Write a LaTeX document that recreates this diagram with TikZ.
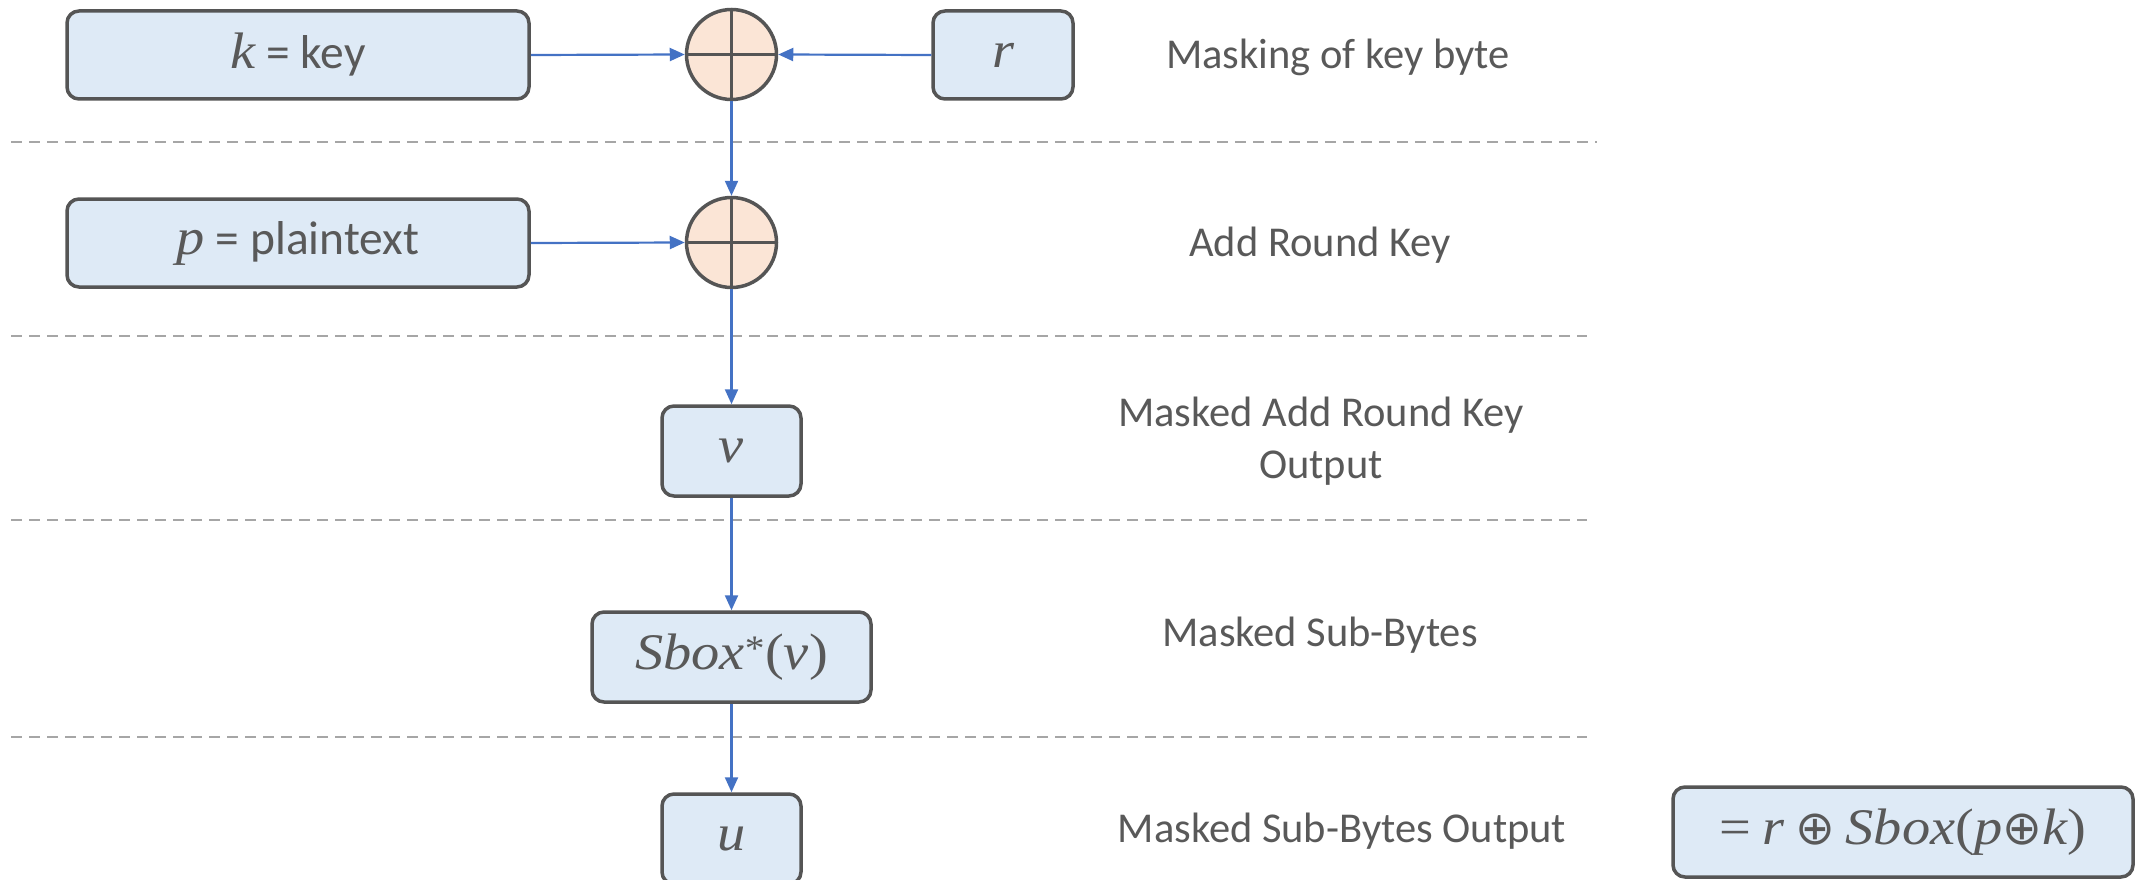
\documentclass[tikz,border=0pt]{standalone}
\usepackage{fontspec}
\setmainfont{Carlito}
\newfontfamily\mfont[Scale=1.08, FakeStretch=1.1]{Liberation Serif}
\newfontfamily\symfont{DejaVu Sans}
\newcommand{\mv}[1]{{\mfont\itshape #1}}
\newcommand{\mup}[1]{{\mfont #1}}
\newcommand{\xo}{{\symfont ⊕}}
\usetikzlibrary{arrows.meta}
\definecolor{txt}{HTML}{595959}
\definecolor{boxfill}{HTML}{DEEAF6}
\definecolor{boxline}{HTML}{555555}
\definecolor{xorfill}{HTML}{FBE5D6}
\definecolor{arrowblue}{HTML}{4472C4}
\definecolor{dashgray}{HTML}{A6A6A6}
\tikzset{
  bx/.style={draw=boxline, line width=3.5pt, fill=boxfill, rounded corners=12pt,
    inner sep=0pt, text=txt, font=\fontsize{47.5}{55}\selectfont},
  xorc/.style={circle, draw=boxline, line width=3.5pt, fill=xorfill,
    minimum size=90pt, inner sep=0pt},
  lbl/.style={text=txt, font=\fontsize{42.5}{52}\selectfont, align=center},
  flow/.style={draw=arrowblue, line width=2.2pt, -{Triangle[length=15pt,width=13pt]}},
  sep/.style={draw=dashgray, line width=2.5pt, dash pattern=on 11pt off 7pt}
}
\begin{document}
\begin{tikzpicture}[x=1pt,y=-1pt]
\useasboundingbox (0,0) rectangle (2136,880);
% separators
\draw[sep] (11,142) -- (1597,142);
\draw[sep] (11,336) -- (1587,336);
\draw[sep] (11,520) -- (1587,520);
\draw[sep] (11,737) -- (1587,737);
% boxes
\node[bx, minimum width=462pt, minimum height=88pt] (k) at (298,55) {\mv{k} = key};
\node[bx, minimum width=140pt, minimum height=88pt] (r) at (1003,55) {\mv{r}};
\node[bx, minimum width=462pt, minimum height=88pt] (p) at (298,243) {\mv{p} = plaintext};
\node[bx, minimum width=139pt, minimum height=90pt] (v) at (731.5,451) {\mv{v}};
\node[bx, minimum width=279pt, minimum height=90pt] (s) at (731.5,657) {\mv{Sbox}\textsuperscript{\mup{*}}\mup{(}\mv{v}\mup{)}};
\node[bx, minimum width=139pt, minimum height=90pt] (u) at (731.5,839) {\mv{u}};
\node[bx, minimum width=460pt, minimum height=90pt] (f) at (1903,832) {\mup{=} \mv{r} \xo{} \mv{Sbox}\mup{(}\mv{p}\xo\mv{k}\mup{)}};
% xor circles
\node[xorc] (x1) at (731.5,54.5) {};
\node[xorc] (x2) at (731.5,242.5) {};
\foreach \n in {x1,x2}{
  \draw[boxline, line width=3pt] (\n.north) -- (\n.south);
  \draw[boxline, line width=3pt] (\n.west) -- (\n.east);
}
% labels
\node[lbl] (l1) at (1338,57) {Masking of key byte};
\node[lbl] (l2) at (1320,245) {Add Round Key};
\node[lbl] (l3) at (1321,441) {Masked Add Round Key\\Output};
\node[lbl] (l4) at (1320,635) {Masked Sub-Bytes};
\node[lbl] (l5) at (1342,831) {Masked Sub-Bytes Output};
% connectors
\draw[flow] (k.east) -- (x1.west);
\draw[flow] (r.west) -- (x1.east);
\draw[flow] (x1.south) -- (x2.north);
\draw[flow] (p.east) -- (x2.west);
\draw[flow] (x2.south) -- (v.north);
\draw[flow] (v.south) -- (s.north);
\draw[flow] (s.south) -- (u.north);
\end{tikzpicture}
\end{document}
